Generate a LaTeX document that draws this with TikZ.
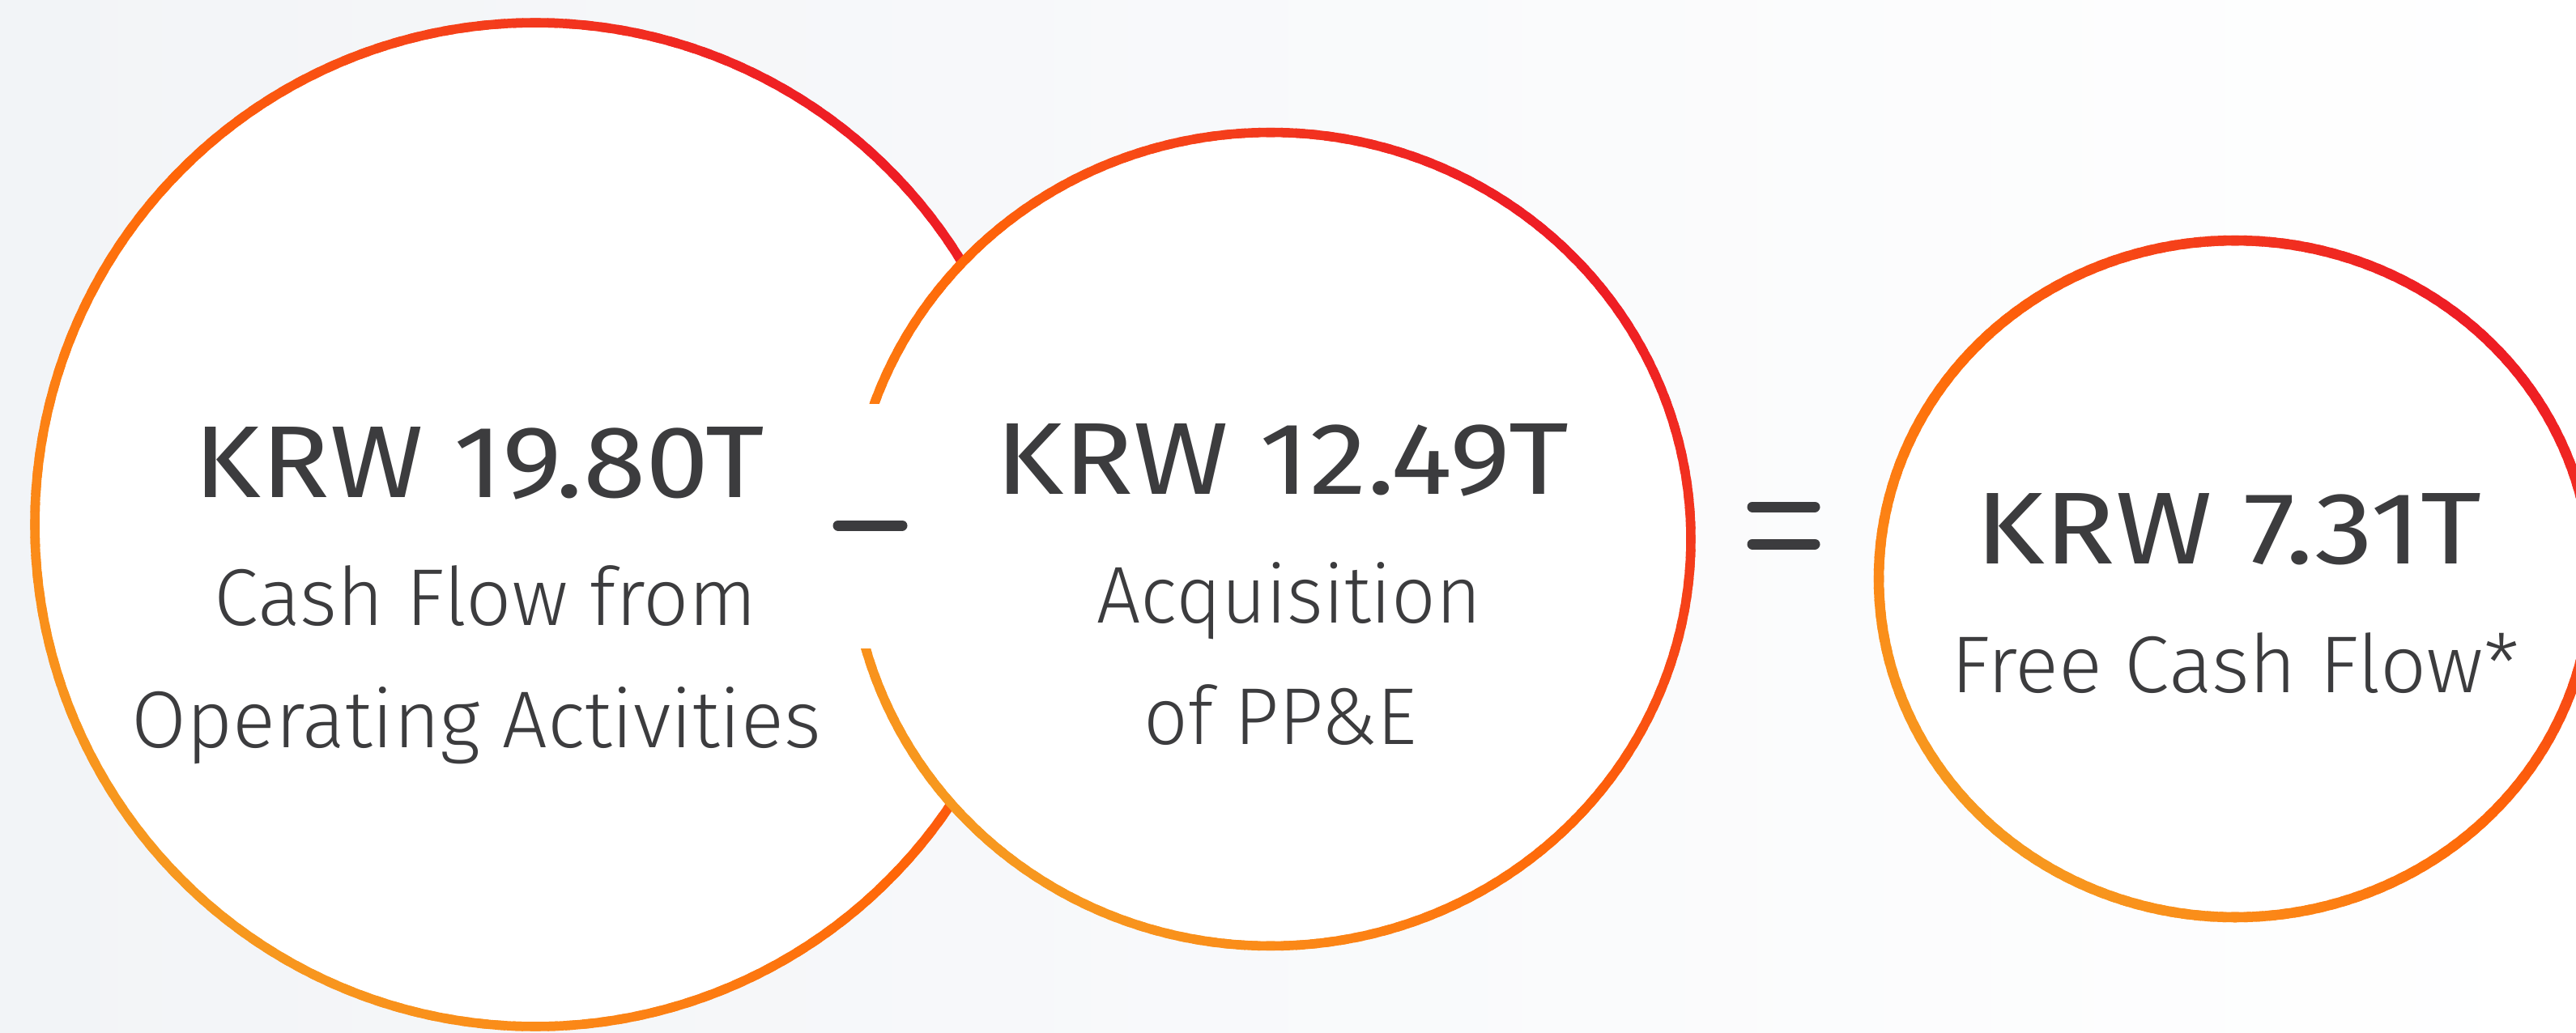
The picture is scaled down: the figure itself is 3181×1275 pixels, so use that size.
\documentclass[tikz,border=0pt]{standalone}
\usepackage{fontspec}
\setmainfont{Fira Sans}
\newfontfamily\lightface{Fira Sans Light}
\usepackage{graphicx}

\definecolor{ink}{HTML}{3C3C3E}
\definecolor{ringA}{HTML}{F7981F}
\definecolor{ringB}{HTML}{FB8A18}
\definecolor{ringC}{HTML}{FF6608}
\definecolor{ringD}{HTML}{F3391D}
\definecolor{ringE}{HTML}{EE1D24}
\definecolor{bgL}{HTML}{F2F4F7}

% scale a text horizontally to a given width, keeping its height
\newcommand{\fitw}[2]{\resizebox{#1}{\height}{#2}}

% colour of a ring segment for a position t in [0,1] along the gradient
\newcommand{\ringcolor}[1]{%
  \ifdim #1pt<0.146pt
    \pgfmathsetmacro{\mixp}{max(0,min(100,100*#1/0.146))}\colorlet{segc}{ringB!\mixp!ringA}%
  \else\ifdim #1pt<0.5pt
    \pgfmathsetmacro{\mixp}{max(0,min(100,100*(#1-0.146)/0.354))}\colorlet{segc}{ringC!\mixp!ringB}%
  \else\ifdim #1pt<0.854pt
    \pgfmathsetmacro{\mixp}{max(0,min(100,100*(#1-0.5)/0.354))}\colorlet{segc}{ringD!\mixp!ringC}%
  \else
    \pgfmathsetmacro{\mixp}{max(0,min(100,100*(#1-0.854)/0.146))}\colorlet{segc}{ringE!\mixp!ringD}%
  \fi\fi\fi}

% elliptic ring with an orange-to-red gradient stroke: cx, cy, rx, ry, width
\newcommand{\gradring}[5]{%
  \foreach \k in {0,2,...,358}{%
    \pgfmathsetmacro{\aS}{\k-0.6}%
    \pgfmathsetmacro{\aE}{\k+2.6}%
    \pgfmathsetmacro{\tv}{(1+(cos(\k+1)-sin(\k+1))/sqrt(2))/2}%
    \ringcolor{\tv}%
    \draw[line width=#5, draw=segc]
      ({#1+#3*cos(\aS)},{#2+#4*sin(\aS)})
      arc[start angle=\aS, end angle=\aE, x radius=#3, y radius=#4];
  }}

\tikzset{
  numtxt/.style={text=ink, inner sep=0pt, anchor=base,
    font=\fontsize{35.9}{40}\selectfont},
  subtxt/.style={text=ink, inner sep=0pt, anchor=base,
    font=\lightface\fontsize{28.3}{32}\selectfont},
  opbar/.style={draw=ink, line width=3.7pt, line cap=round},
}

\begin{document}
\begin{tikzpicture}[x=0.01cm, y=-0.01cm]
  \useasboundingbox (0,0) rectangle (3181,1275);
  \clip (0,0) rectangle (3181,1275);

  % soft page background
  \shade[left color=bgL, right color=white] (0,0) rectangle (3181,1275);

  % operating cash flow circle
  \fill[white] (661,648) ellipse [x radius=618, y radius=620];
  \gradring{661}{648}{618}{620}{3.27pt}

  % capital expenditure circle, overlapping the first one
  \fill[white] (1569,666) ellipse [x radius=519, y radius=502.5];
  \gradring{1569}{666}{519}{502.5}{3.27pt}

  % white band that opens the ring around the minus sign
  \fill[white] (990,499) rectangle (1130,801);
  \coordinate (mL) at (1035,649);
  \coordinate (mR) at (1114,649);
  \draw[opbar] (mL) -- (mR);

  % free cash flow circle
  \fill[white] (2760,715) ellipse [x radius=440, y radius=418];
  \gradring{2760}{715}{440}{418}{3.56pt}

  % equals sign
  \coordinate (eAL) at (2164,626);
  \coordinate (eAR) at (2241,626);
  \coordinate (eBL) at (2164,672);
  \coordinate (eBR) at (2241,672);
  \draw[opbar] (eAL) -- (eAR);
  \draw[opbar] (eBL) -- (eBR);

  % labels
  \node[numtxt] (cfoNum)  at (592,614)  {\fitw{7.04cm}{KRW 19.80T}};
  \node[subtxt] (cfoSubA) at (600,772)  {\fitw{6.70cm}{Cash Flow from}};
  \node[subtxt] (cfoSubB) at (588,923)  {\fitw{8.51cm}{Operating Activities}};

  \node[numtxt] (capNum)  at (1583,610) {\fitw{7.07cm}{KRW 12.49T}};
  \node[subtxt] (capSubA) at (1592,769) {\fitw{4.75cm}{Acquisition}};
  \node[subtxt] (capSubB) at (1581,919) {\fitw{3.37cm}{of PP\&E}};

  \node[numtxt] (fcfNum)  at (2752,696) {\fitw{6.25cm}{KRW 7.31T}};
  \node[subtxt] (fcfSub)  at (2760,855) {\fitw{7.01cm}{Free Cash Flow*}};
\end{tikzpicture}
\end{document}
